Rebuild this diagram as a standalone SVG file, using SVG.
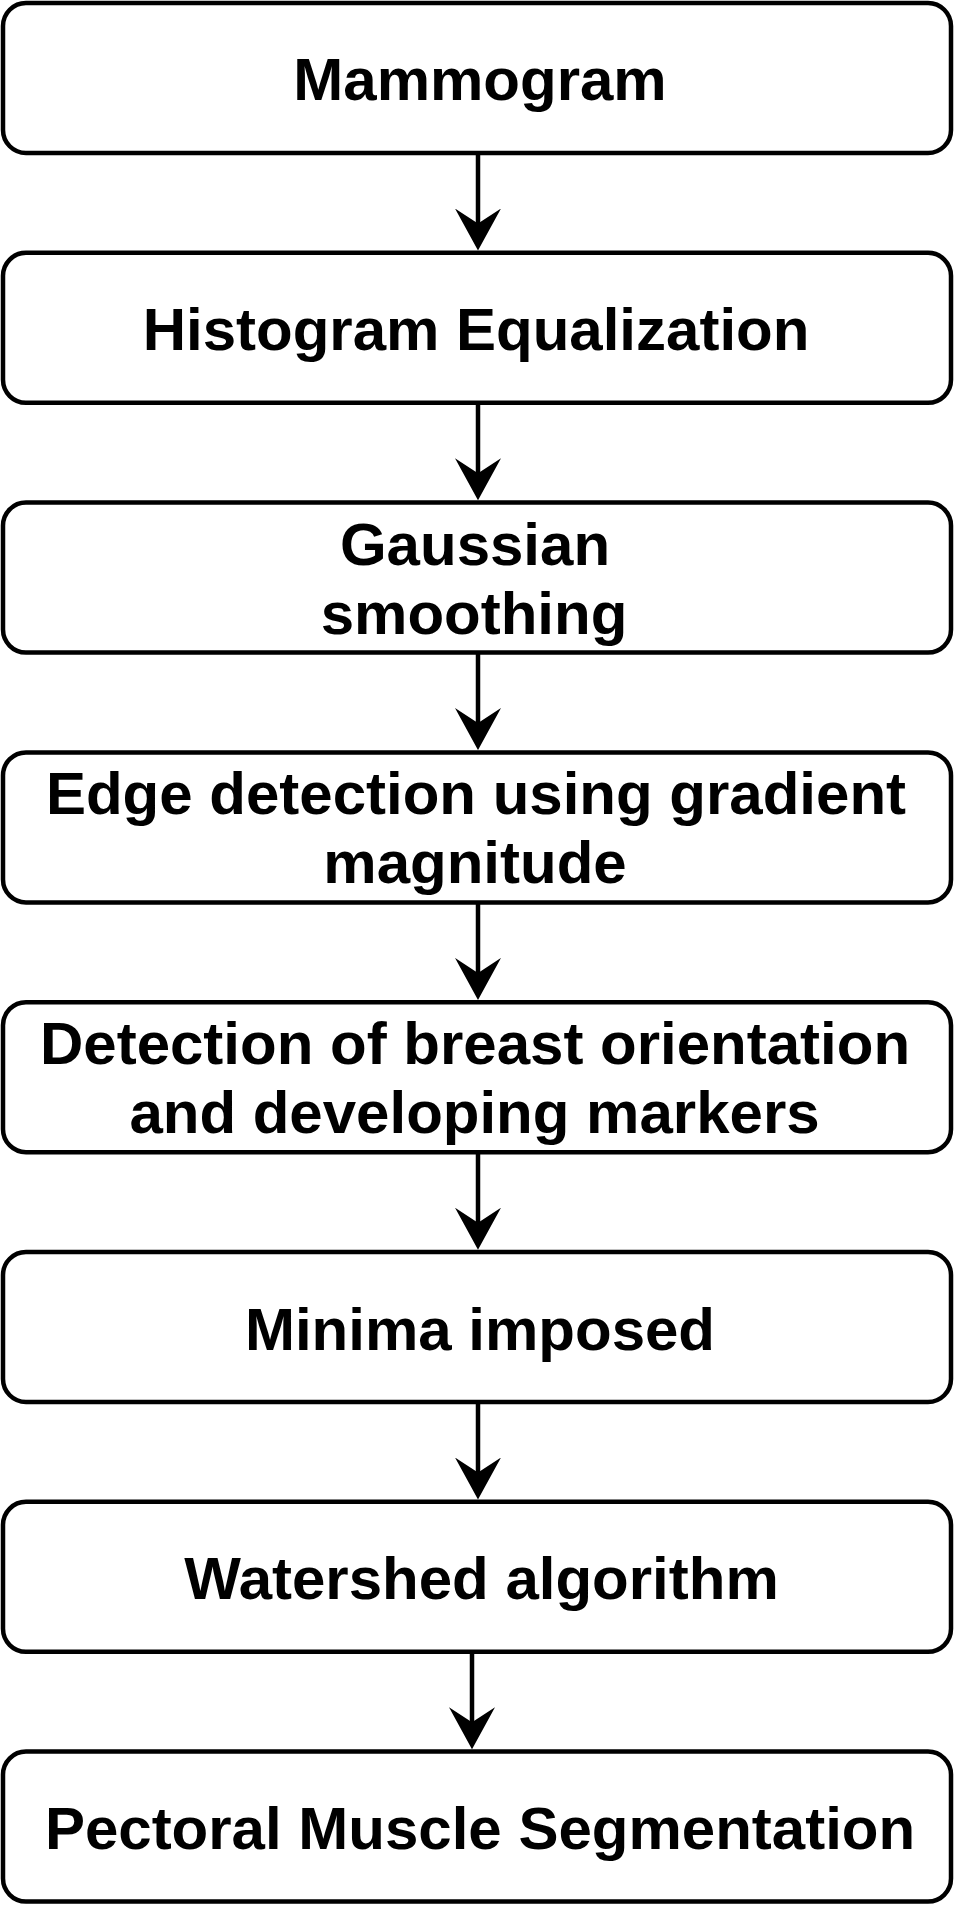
<svg xmlns="http://www.w3.org/2000/svg" width="955" height="1905" viewBox="0 0 955 1905">
<style>
.box{fill:#fff;stroke:#000;stroke-width:4.5}
.lbl{font-family:"Liberation Sans",Arial,sans-serif;font-weight:bold;font-size:60px;fill:#000;text-anchor:middle}
.edge{fill:none;stroke:#000;stroke-width:4.5}
</style>
<defs>
<marker id="arr" markerUnits="userSpaceOnUse" viewBox="0 0 42 46" markerWidth="42" markerHeight="46" refX="20" refY="23" orient="auto">
<path d="M0,0 L42,23 L0,46 L15,23 Z" fill="#000"/>
</marker>
</defs>
<rect width="955" height="1905" fill="#fff"/>
<g id="n1"><rect class="box" x="3" y="3" width="948" height="150" rx="23"/><text class="lbl" x="480" y="100">Mammogram</text></g>
<g id="n2"><rect class="box" x="3" y="252.8" width="948" height="150" rx="23"/><text class="lbl" x="476" y="350">Histogram Equalization</text></g>
<g id="n3"><rect class="box" x="3" y="502.6" width="948" height="150" rx="23"/><text class="lbl" x="475" y="565">Gaussian</text><text class="lbl" x="474" y="634">smoothing</text></g>
<g id="n4"><rect class="box" x="3" y="752.4" width="948" height="150" rx="23"/><text class="lbl" x="476" y="814">Edge detection using gradient</text><text class="lbl" x="475" y="883">magnitude</text></g>
<g id="n5"><rect class="box" x="3" y="1002.2" width="948" height="150" rx="23"/><text class="lbl" x="475" y="1064">Detection of breast orientation</text><text class="lbl" x="474.5" y="1133">and developing markers</text></g>
<g id="n6"><rect class="box" x="3" y="1252" width="948" height="150" rx="23"/><text class="lbl" x="480" y="1350">Minima imposed</text></g>
<g id="n7"><rect class="box" x="3" y="1501.8" width="948" height="150" rx="23"/><text class="lbl" x="481.5" y="1599">Watershed algorithm</text></g>
<g id="n8"><rect class="box" x="3" y="1751.6" width="948" height="150" rx="23"/><text class="lbl" x="480" y="1849">Pectoral Muscle Segmentation</text></g>
<g id="edges">
<path class="edge" d="M478,153 L478,228.5" marker-end="url(#arr)"/>
<path class="edge" d="M478,402.8 L478,478.3" marker-end="url(#arr)"/>
<path class="edge" d="M478,652.6 L478,728.1" marker-end="url(#arr)"/>
<path class="edge" d="M478,902.4 L478,977.9" marker-end="url(#arr)"/>
<path class="edge" d="M478,1152.2 L478,1227.7" marker-end="url(#arr)"/>
<path class="edge" d="M478,1402 L478,1477.5" marker-end="url(#arr)"/>
<path class="edge" d="M472,1651.8 L472,1727.3" marker-end="url(#arr)"/>
</g>
</svg>
